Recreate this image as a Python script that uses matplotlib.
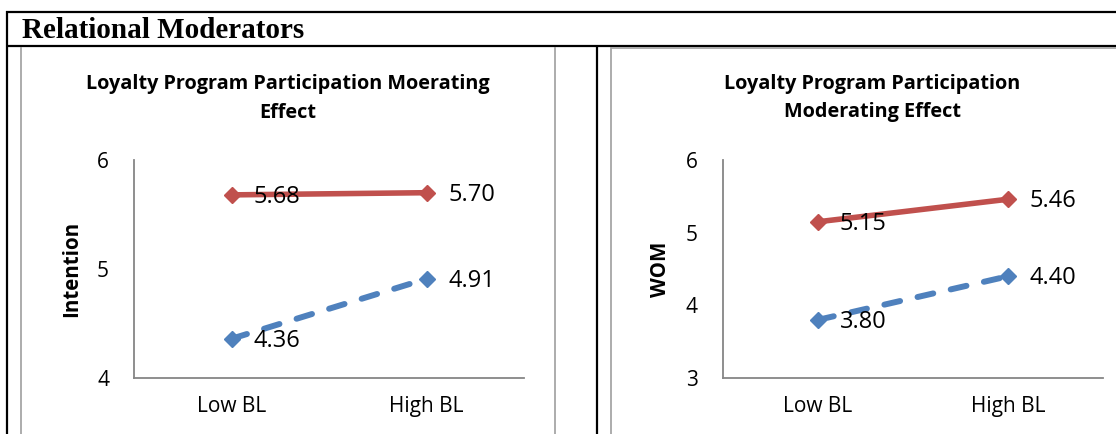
import matplotlib
matplotlib.use("Agg")
import matplotlib.pyplot as plt
from matplotlib.lines import Line2D

# ---- data ----
categories = ["Low BL", "High BL"]

intention_participants = [5.68, 5.70]
intention_non_participants = [4.36, 4.91]

wom_participants = [5.15, 5.46]
wom_non_participants = [3.80, 4.40]

section_title = "Relational Moderators"
left_title = "Loyalty Program Participation Moerating\nEffect"
right_title = "Loyalty Program Participation\nModerating Effect"
left_ylabel = "Intention"
right_ylabel = "WOM"
left_yticks = [4, 5, 6]
right_yticks = [3, 4, 5, 6]

# ---- styling ----
RED = "#C0504D"
BLUE = "#4F81BD"
AXIS_GREY = "#868686"
FRAME_GREY = "#A6A6A6"
FONT = "Open Sans"
W, H = 1116, 434

fig = plt.figure(figsize=(W / 100, H / 100), dpi=100)

# Page layer in pixel coordinates for the table frame and captions
page = fig.add_axes([0, 0, 1, 1], zorder=0)
page.set_xlim(0, W)
page.set_ylim(H, 0)
page.axis("off")


def hline(y, x0, x1, color, lw):
    page.add_line(Line2D([x0, x1], [y, y], color=color, lw=lw, solid_capstyle="butt"))


def vline(x, y0, y1, color, lw):
    page.add_line(Line2D([x, x], [y0, y1], color=color, lw=lw, solid_capstyle="butt"))


# table borders
hline(12, 6, W, "black", 1.6)
hline(46, 6, W, "black", 1.6)
vline(7, 11, H, "black", 1.6)
vline(597, 46, H, "black", 1.6)
# chart frames
vline(21, 47, H, FRAME_GREY, 1.3)
vline(555, 47, H, FRAME_GREY, 1.3)
vline(611, 47, H, FRAME_GREY, 1.3)
hline(48, 611, W, FRAME_GREY, 1.3)

page.text(22, 31, section_title, family="Liberation Serif", weight="bold",
          fontsize=21, ha="left", va="center")


def panel(x0, x1, y_top, y_bot, ylim, yticks, low_vals, high_vals, title, title_cx,
          ylabel, ylabel_cx):
    ax = fig.add_axes([x0 / W, (H - y_bot) / H, (x1 - x0) / W, (y_bot - y_top) / H],
                      zorder=1)
    xs = [0.5, 1.5]
    ax.plot(xs, high_vals, color=RED, lw=4.0, marker="D", ms=8.3, mew=1,
            solid_capstyle="round", clip_on=False, zorder=3)
    ax.plot(xs, low_vals, color=BLUE, lw=4.3, marker="D", ms=8.3, mew=1,
            dashes=(2.7, 3.0), dash_capstyle="round", clip_on=False, zorder=3)
    for vals in (high_vals, low_vals):
        for x, v in zip(xs, vals):
            ax.annotate(f"{v:.2f}", (x, v), xytext=(15.5, -1.5),
                        textcoords="offset points", ha="left", va="center",
                        family=FONT, fontsize=17, color="black")
    ax.set_xlim(0, 2)
    ax.set_ylim(*ylim)
    ax.set_xticks(xs)
    ax.set_xticklabels(categories)
    ax.set_yticks(yticks)
    ax.tick_params(length=0, labelsize=15, colors="black")
    ax.tick_params(axis="y", pad=18)
    ax.tick_params(axis="x", pad=13)
    for lab in ax.get_xticklabels() + ax.get_yticklabels():
        lab.set_family(FONT)
    for side in ("top", "right"):
        ax.spines[side].set_visible(False)
    for side in ("left", "bottom"):
        ax.spines[side].set_color(AXIS_GREY)
        ax.spines[side].set_linewidth(1.3)
    ax.patch.set_alpha(0)
    page.text(title_cx, 98, title, family=FONT, weight="bold", fontsize=14.3,
              ha="center", va="center", linespacing=1.6)
    page.text(ylabel_cx, (y_top + y_bot) / 2, ylabel, family=FONT, weight="bold",
              fontsize=14.8, rotation=90, ha="center", va="center")
    return ax


panel(134, 524, 160, 378, (4, 6), left_yticks,
      intention_non_participants, intention_participants,
      left_title, 288, left_ylabel, 72)
panel(723, 1103, 160, 378, (3, 6), right_yticks,
      wom_non_participants, wom_participants,
      right_title, 872, right_ylabel, 660)

fig.savefig("out.png", dpi=100)
